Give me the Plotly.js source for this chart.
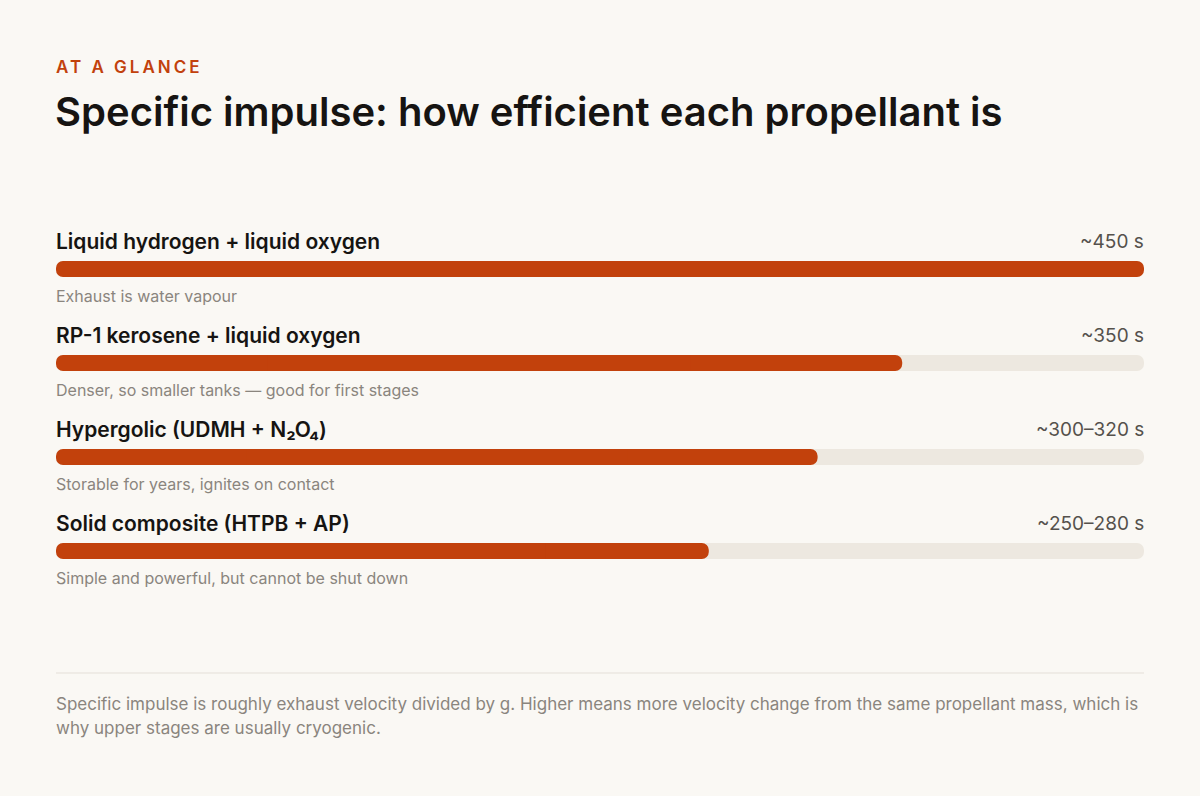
<!DOCTYPE html>
<html>
<head>
<meta charset="utf-8">
<script src="https://cdn.plot.ly/plotly-3.0.1.min.js"></script>
<style>
  html, body { margin: 0; padding: 0; background: #faf8f4; }
  #chart { width: 1200px; height: 796px; }
  g.annotation[data-index="0"] text { letter-spacing: 3px; }
</style>
</head>
<body>
<div id="chart"></div>
<script>
const propellants = [
  "Liquid hydrogen + liquid oxygen",
  "RP-1 kerosene + liquid oxygen",
  "Hypergolic (UDMH + N₂O₄)",
  "Solid composite (HTPB + AP)"
];
const ispValues = [450, 350, 315, 270];
const ispLabels = ["~450 s", "~350 s", "~300–320 s", "~250–280 s"];
const notes = [
  "Exhaust is water vapour",
  "Denser, so smaller tanks — good for first stages",
  "Storable for years, ignites on contact",
  "Simple and powerful, but cannot be shut down"
];
const footerLines = [
  "Specific impulse is roughly exhaust velocity divided by g. Higher means more velocity change from the same propellant mass, which is",
  "why upper stages are usually cryogenic."
];
const scaleMax = 450;

const rows = propellants.map((_, i) => i);
const FONT = "Inter, 'Noto Sans', sans-serif";
const ACCENT = "#c2410c";
const TRACK = "#ede8e0";

// Each bar: a left half (rounded at its left end), a right half (rounded at its right end),
// and a square middle piece hiding the seam between them.
function roundedBars(values, color) {
  const common = { type: "bar", orientation: "h", y: rows, width: 0.17,
    hoverinfo: "skip", showlegend: false };
  return [
    Object.assign({}, common, { base: values.map(v => v / 2), x: values.map(v => -v / 2),
      marker: { color: color, cornerradius: 8, line: { width: 0 } } }),
    Object.assign({}, common, { base: values.map(v => v / 2), x: values.map(v => v / 2),
      marker: { color: color, cornerradius: 8, line: { width: 0 } } }),
    Object.assign({}, common, { base: values.map(v => v / 4), x: values.map(v => v / 2),
      marker: { color: color, line: { width: 0 } } })
  ];
}

const traces = [
  ...roundedBars(rows.map(() => scaleMax), TRACK),
  ...roundedBars(ispValues, ACCENT)
];

function pyToPaper(py) { return (598 - py) / 376; }

const annotations = [
  { text: "AT A GLANCE", xref: "paper", yref: "paper", x: 0, y: pyToPaper(67), xanchor: "left", yanchor: "middle",
    align: "left", xshift: -2, showarrow: false,
    font: { family: FONT, size: 17, color: ACCENT, weight: 600 } },
  { text: "Specific impulse: how efficient each propellant is", xref: "paper", yref: "paper", x: 0, y: pyToPaper(112),
    xanchor: "left", yanchor: "middle", xshift: -3, showarrow: false,
    font: { family: FONT, size: 40, color: "#161412", weight: 600 } }
];

rows.forEach(i => {
  annotations.push({
    text: propellants[i], xref: "paper", yref: "y", x: 0, y: i - 28 / 94, xshift: -2,
    xanchor: "left", yanchor: "middle", showarrow: false,
    font: { family: FONT, size: 21, color: "#161412", weight: 600 }
  });
  annotations.push({
    text: ispLabels[i], xref: "paper", yref: "y", x: 1, y: i - 28 / 94, xshift: 2,
    xanchor: "right", yanchor: "middle", showarrow: false,
    font: { family: FONT, size: 19, color: "#55514c" }
  });
  annotations.push({
    text: notes[i], xref: "paper", yref: "y", x: 0, y: i + 27 / 94, xshift: -2,
    xanchor: "left", yanchor: "middle", showarrow: false,
    font: { family: FONT, size: 16, color: "#8a857e" }
  });
});

footerLines.forEach((line, k) => {
  annotations.push({
    text: line, xref: "paper", yref: "paper", x: 0, y: pyToPaper(704 + 24 * k), xshift: -2,
    xanchor: "left", yanchor: "middle", showarrow: false,
    font: { family: FONT, size: 17, color: "#8a857e" }
  });
});

const layout = {
  width: 1200, height: 796,
  margin: { l: 56, r: 56, t: 222, b: 198, pad: 0 },
  paper_bgcolor: "#faf8f4", plot_bgcolor: "rgba(0,0,0,0)",
  barmode: "overlay",
  xaxis: { range: [0, scaleMax], visible: false, fixedrange: true },
  yaxis: { range: [3.5, -0.5], visible: false, fixedrange: true },
  annotations: annotations,
  shapes: [
    { type: "line", xref: "paper", yref: "paper", x0: 0, x1: 1, y0: pyToPaper(673), y1: pyToPaper(673),
      line: { color: "#e4dfd8", width: 1 } }
  ],
  font: { family: FONT }
};

Plotly.newPlot("chart", traces, layout, { displayModeBar: false, staticPlot: true });
</script>
</body>
</html>
